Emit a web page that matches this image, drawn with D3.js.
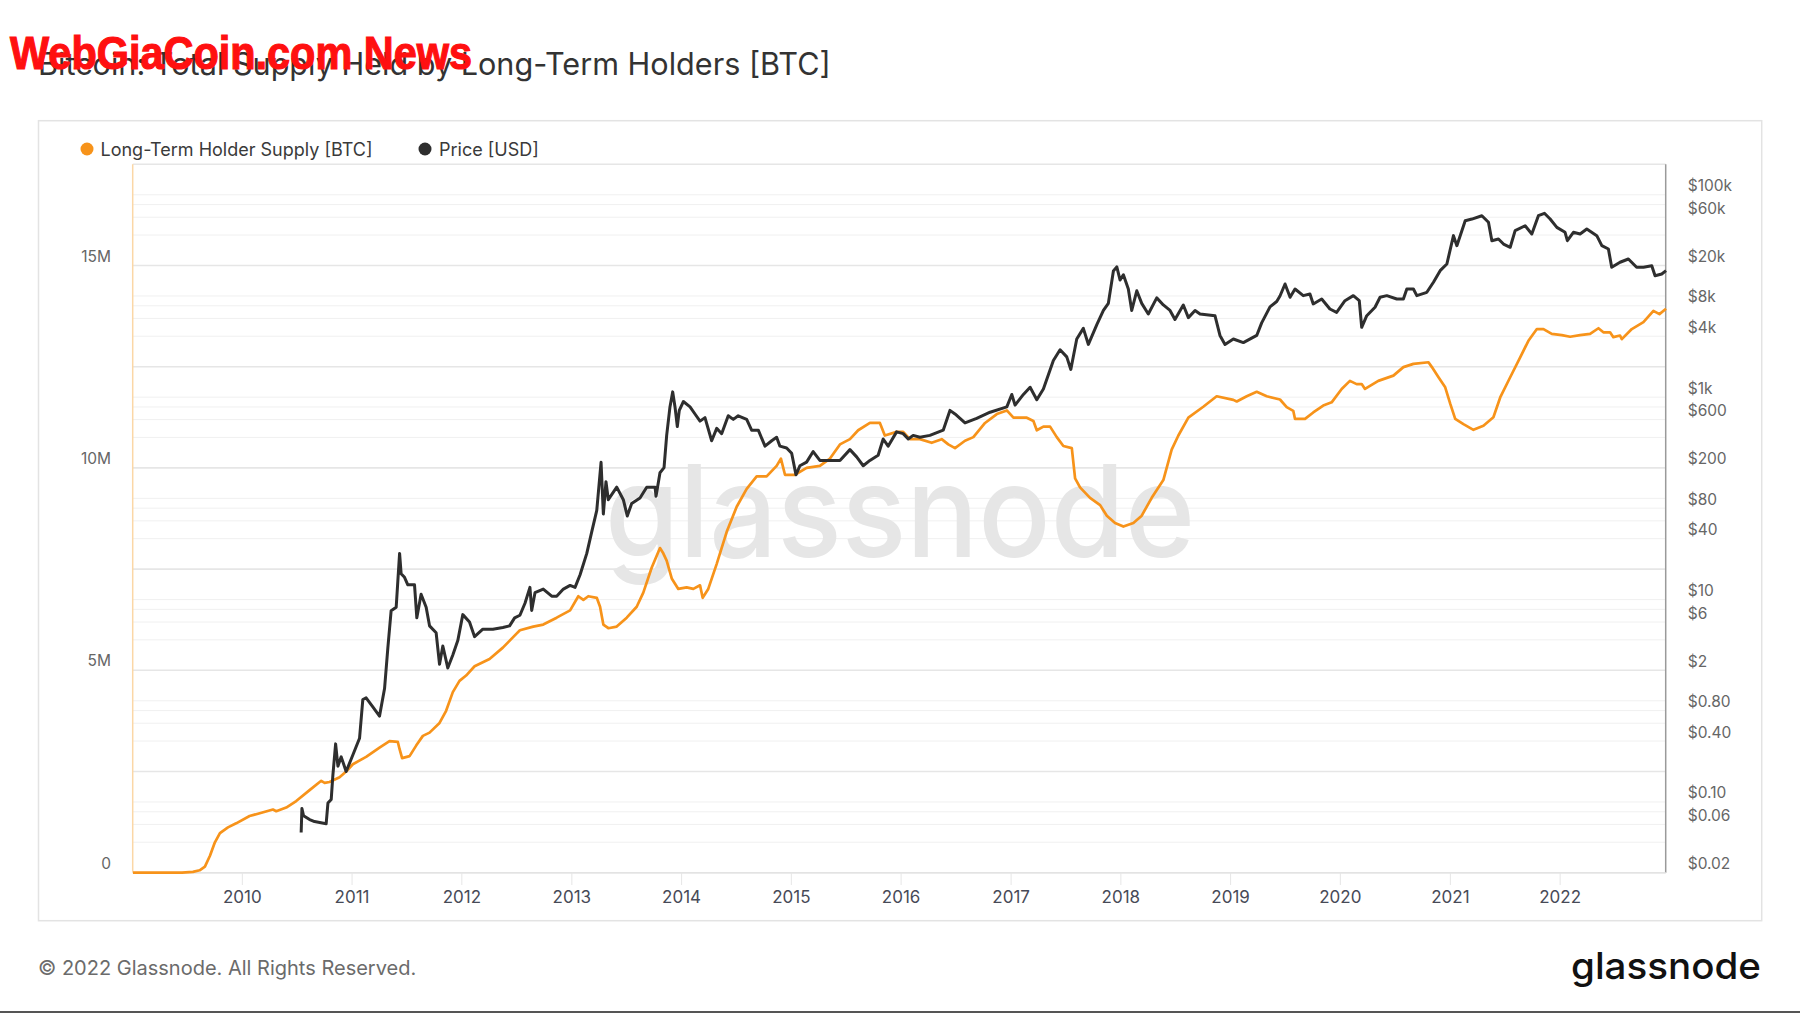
<!DOCTYPE html>
<html><head><meta charset="utf-8">
<script src="https://cdn.jsdelivr.net/npm/d3@7"></script>
<style>
html,body{margin:0;padding:0;background:#fff;}
svg{display:block;font-family:Inter,"Noto Sans",sans-serif;}
</style>
</head><body>
<svg id="chart" width="1800" height="1013"></svg>
<script>
// ---------- DATA ----------
const titleText = "Bitcoin: Total Supply Held by Long-Term Holders [BTC]";
const seriesNames = ["Long-Term Holder Supply [BTC]", "Price [USD]"];

// Long-Term Holder supply, dates as decimal years, values in millions of BTC
const lthYears = [
 2009.004,2009.450,2009.550,2009.611,2009.659,2009.705,2009.750,2009.796,2009.869,2009.944,
 2010.066,2010.279,2010.309,2010.400,2010.491,2010.613,2010.719,2010.750,2010.795,2010.886,
 2010.946,2011.007,2011.128,2011.250,2011.341,2011.417,2011.433,2011.456,2011.524,2011.584,
 2011.645,2011.706,2011.797,2011.857,2011.918,2011.979,2012.039,2012.116,2012.252,2012.373,
 2012.495,2012.528,2012.649,2012.740,2012.862,2012.984,2013.059,2013.105,2013.150,2013.227,
 2013.257,2013.287,2013.332,2013.409,2013.500,2013.591,2013.651,2013.728,2013.803,2013.833,
 2013.864,2013.910,2013.970,2014.046,2014.107,2014.168,2014.192,2014.243,2014.320,2014.411,
 2014.502,2014.593,2014.684,2014.775,2014.866,2014.905,2014.942,2015.033,2015.139,2015.260,
 2015.352,2015.443,2015.534,2015.609,2015.716,2015.807,2015.852,2015.959,2016.019,2016.080,
 2016.171,2016.278,2016.369,2016.429,2016.490,2016.581,2016.657,2016.763,2016.870,2016.961,
 2017.021,2017.143,2017.203,2017.234,2017.294,2017.355,2017.416,2017.476,2017.553,2017.583,
 2017.628,2017.719,2017.811,2017.872,2017.947,2018.023,2018.114,2018.190,2018.281,2018.387,
 2018.463,2018.524,2018.615,2018.751,2018.873,2019.025,2019.056,2019.147,2019.238,2019.329,
 2019.450,2019.511,2019.571,2019.587,2019.678,2019.753,2019.844,2019.921,2020.012,2020.087,
 2020.148,2020.194,2020.224,2020.345,2020.482,2020.573,2020.664,2020.801,2020.832,2020.892,
 2020.953,2020.999,2021.044,2021.119,2021.210,2021.301,2021.392,2021.454,2021.545,2021.636,
 2021.711,2021.788,2021.848,2021.924,2022.015,2022.091,2022.182,2022.273,2022.349,2022.394,
 2022.455,2022.485,2022.546,2022.562,2022.653,2022.759,2022.850,2022.905,2022.965
];
const lthValues = [
 0,0.003,0.02,0.06,0.15,0.42,0.75,0.98,1.12,1.22,
 1.40,1.56,1.52,1.61,1.77,2.04,2.27,2.22,2.24,2.36,
 2.50,2.68,2.86,3.09,3.25,3.23,3.05,2.83,2.88,3.14,
 3.38,3.46,3.70,4.00,4.46,4.74,4.87,5.10,5.28,5.56,
 5.90,5.99,6.08,6.13,6.30,6.48,6.83,6.74,6.83,6.79,
 6.57,6.13,6.04,6.08,6.30,6.57,6.92,7.54,8.02,7.89,
 7.71,7.27,7.01,7.05,7.01,7.10,6.79,7.01,7.63,8.42,
 9.04,9.48,9.79,9.79,10.05,10.23,9.83,9.83,10.00,10.05,
 10.23,10.58,10.71,10.93,11.11,11.11,10.80,10.89,10.89,10.71,
 10.71,10.62,10.71,10.58,10.49,10.67,10.76,11.11,11.33,11.42,
 11.24,11.24,11.16,10.93,11.02,11.02,10.76,10.54,10.49,9.74,
 9.52,9.26,9.08,8.82,8.64,8.55,8.64,8.82,9.26,9.70,
 10.45,10.80,11.24,11.51,11.77,11.68,11.64,11.77,11.88,11.77,
 11.69,11.50,11.41,11.21,11.21,11.37,11.54,11.62,11.95,12.15,
 12.07,12.07,11.95,12.15,12.28,12.49,12.57,12.61,12.49,12.24,
 11.99,11.58,11.21,11.08,10.94,11.04,11.25,11.74,12.24,12.73,
 13.14,13.43,13.43,13.31,13.28,13.24,13.28,13.31,13.45,13.35,
 13.35,13.23,13.27,13.18,13.43,13.60,13.88,13.80,13.93
];

// Price in USD, dates as decimal years
const priceYears = [
 2010.536,2010.543,2010.558,2010.613,2010.658,2010.764,2010.780,2010.810,2010.825,2010.850,
 2010.871,2010.901,2010.946,2011.007,2011.068,2011.098,2011.128,2011.189,2011.250,2011.296,
 2011.326,2011.356,2011.402,2011.417,2011.433,2011.447,2011.478,2011.508,2011.569,2011.590,
 2011.629,2011.675,2011.706,2011.766,2011.797,2011.827,2011.872,2011.918,2011.964,2012.009,
 2012.070,2012.116,2012.191,2012.282,2012.373,2012.434,2012.480,2012.528,2012.574,2012.619,
 2012.635,2012.665,2012.740,2012.817,2012.862,2012.923,2012.984,2013.029,2013.075,2013.136,
 2013.181,2013.227,2013.266,2013.287,2013.311,2013.332,2013.409,2013.469,2013.505,2013.545,
 2013.621,2013.682,2013.758,2013.767,2013.803,2013.840,2013.864,2013.894,2013.919,2013.940,
 2013.961,2013.979,2014.016,2014.077,2014.122,2014.168,2014.213,2014.274,2014.320,2014.365,
 2014.425,2014.471,2014.516,2014.593,2014.638,2014.699,2014.760,2014.821,2014.866,2014.896,
 2014.957,2015.003,2015.042,2015.078,2015.139,2015.199,2015.260,2015.352,2015.443,2015.534,
 2015.595,2015.655,2015.716,2015.791,2015.837,2015.882,2015.959,2016.019,2016.065,2016.110,
 2016.171,2016.262,2016.383,2016.444,2016.490,2016.581,2016.687,2016.809,2016.961,2017.006,
 2017.036,2017.112,2017.173,2017.234,2017.294,2017.385,2017.446,2017.507,2017.544,2017.598,
 2017.658,2017.704,2017.781,2017.841,2017.886,2017.932,2017.963,2017.993,2018.023,2018.068,
 2018.099,2018.145,2018.190,2018.250,2018.327,2018.387,2018.448,2018.493,2018.569,2018.615,
 2018.676,2018.721,2018.858,2018.903,2018.949,2019.025,2019.116,2019.238,2019.283,2019.359,
 2019.420,2019.450,2019.496,2019.542,2019.587,2019.662,2019.723,2019.753,2019.830,2019.905,
 2019.966,2020.042,2020.118,2020.172,2020.194,2020.240,2020.315,2020.361,2020.422,2020.513,
 2020.573,2020.604,2020.664,2020.695,2020.786,2020.846,2020.907,2020.968,2021.028,2021.059,
 2021.135,2021.196,2021.287,2021.347,2021.378,2021.438,2021.484,2021.545,2021.590,2021.681,
 2021.742,2021.802,2021.857,2021.909,2021.970,2022.045,2022.066,2022.121,2022.182,2022.243,
 2022.334,2022.380,2022.440,2022.470,2022.546,2022.622,2022.697,2022.759,2022.835,2022.865,
 2022.926,2022.965
];
const priceValues = [
 0.050,0.086,0.073,0.067,0.064,0.061,0.0975,0.106,0.183,0.375,
 0.226,0.279,0.20,0.291,0.426,1.03,1.07,0.87,0.705,1.32,
 3.34,7.76,8.4,15.2,28.6,18.0,16.6,14.0,14.0,6.6,
 11.3,8.4,5.5,4.7,2.29,3.48,2.11,2.83,3.96,7.1,
 6.0,4.3,5.1,5.1,5.3,5.5,6.6,7.0,9.2,13.2,
 7.8,11.7,12.7,10.8,10.8,12.7,13.8,13.2,17.6,28.6,
 46.6,76,227,70,146,97,129,97,67,89,
 101,129,129,105,179,201,419,801,1128,801,
 513,740,906,801,682,580,628,371,492,436,
 655,603,655,603,472,472,328,371,402,328,
 315,279,171,210,228,290,237,237,237,303,
 257,210,237,267,386,328,454,436,386,419,
 402,419,472,740,682,557,618,710,801,1064,
 835,1064,1254,944,1205,2307,2944,2500,1880,3758,
 4786,3319,5200,7194,8453,17620,19380,14350,16220,11720,
 7194,11250,8453,6637,9570,8150,7194,5866,8150,6110,
 7194,6637,6370,4074,3319,3758,3460,4074,5420,7800,
 8810,10000,13130,9700,11720,10070,10450,8340,9330,7430,
 6890,8980,10070,8980,4900,6380,7730,9700,10070,9330,
 9330,11720,11720,10070,10870,13650,17780,20700,39450,31400,
 55460,57550,62100,53460,35160,36560,32600,30270,44160,49430,
 40930,62100,65600,57550,47640,42560,35160,42560,40930,45900,
 39450,31400,29110,19190,21530,23190,19190,19190,19910,15850,
 16480,17780
];

const yearTicks = [2010,2011,2012,2013,2014,2015,2016,2017,2018,2019,2020,2021,2022];
const lthTicks = [0,5,10,15];
const lthTickLabels = ["0","5M","10M","15M"];
const priceTicks = [0.02,0.06,0.1,0.4,0.8,2,6,10,40,80,200,600,1000,4000,8000,20000,60000,100000];
const priceTickLabels = ["$0.02","$0.06","$0.10","$0.40","$0.80","$2","$6","$10","$40","$80","$200","$600","$1k","$4k","$8k","$20k","$60k","$100k"];

// ---------- LAYOUT ----------
const plot = {left:132.7, right:1665.7, top:164.3, bottom:872.7};
const colors = {lth:"#f7931a", price:"#2e2e2e"};

function dy(y){ const Y=Math.floor(y); const s=Date.UTC(Y,0,1), e=Date.UTC(Y+1,0,1); return new Date(s+(y-Y)*(e-s)); }

const svg = d3.select("#chart");
svg.append("rect").attr("width",1800).attr("height",1013).attr("fill","#fff");

const x = d3.scaleUtc().domain([dy(2009.001), dy(2022.962)]).range([plot.left, plot.right]);
const yL = d3.scaleLinear().domain([0,17.5]).range([plot.bottom, plot.top]);
const yP = d3.scaleLog().domain([0.02,200000]).range([plot.bottom, plot.top]);

// Title
svg.append("text").attr("x",38).attr("y",75).attr("font-size",30.6).attr("fill","#333")
  .text(titleText);

// Panel
svg.append("rect").attr("x",38.5).attr("y",120.7).attr("width",1723.2).attr("height",800)
  .attr("fill","none").attr("stroke","#e3e3e3").attr("stroke-width",1.5);

// Legend
const legend = svg.append("g");
[[87,100.5],[425,439]].forEach((p,i)=>{
  legend.append("circle").attr("cx",p[0]).attr("cy",149).attr("r",6.5).attr("fill",i===0?colors.lth:colors.price);
  legend.append("text").attr("x",p[1]).attr("y",155.5).attr("font-size",18).attr("fill","#3a3a3a").text(seriesNames[i]);
});

// Gridlines: log price minor lines
const gridG = svg.append("g");
const minor = [];
for(let k=0;k<7;k++){ [2,3,4,5].forEach(m=>minor.push(0.02*m*Math.pow(10,k))); }
gridG.selectAll("line.minor").data(minor).join("line")
  .attr("x1",plot.left).attr("x2",plot.right)
  .attr("y1",d=>yP(d)).attr("y2",d=>yP(d))
  .attr("stroke","#f0f0f0").attr("stroke-width",1);
// major lines every 2.5M
gridG.selectAll("line.major").data(d3.range(0,17.51,2.5)).join("line")
  .attr("x1",plot.left).attr("x2",plot.right)
  .attr("y1",d=>yL(d)).attr("y2",d=>yL(d))
  .attr("stroke","#e6e6e6").attr("stroke-width",1.6);

// Watermark
svg.append("text").attr("x",605).attr("y",557).attr("font-size",128).attr("font-weight",500)
  .attr("fill","#e6e6e6").attr("textLength",590).attr("lengthAdjust","spacingAndGlyphs")
  .text("glassnode");

// axes lines
svg.append("line").attr("x1",plot.left).attr("x2",plot.left).attr("y1",plot.top).attr("y2",plot.bottom)
  .attr("stroke","#fbd7a6").attr("stroke-width",1.5);
svg.append("line").attr("x1",plot.right).attr("x2",plot.right).attr("y1",plot.top).attr("y2",plot.bottom)
  .attr("stroke","#9a9a9a").attr("stroke-width",1.5);
svg.append("line").attr("x1",plot.left).attr("x2",plot.right).attr("y1",plot.bottom).attr("y2",plot.bottom)
  .attr("stroke","#e3e3e3").attr("stroke-width",1.5);

// X axis
const xAxis = svg.append("g");
yearTicks.forEach(yr=>{
  const px = x(dy(yr));
  xAxis.append("line").attr("x1",px).attr("x2",px).attr("y1",plot.bottom).attr("y2",885)
    .attr("stroke","#e6e6e6").attr("stroke-width",1);
  xAxis.append("text").attr("x",px).attr("y",897).attr("dominant-baseline","central")
    .attr("text-anchor","middle").attr("font-size",17).attr("fill","#474a57").text(yr);
});

// Left axis labels
lthTicks.forEach((v,i)=>{
  svg.append("text").attr("x",111).attr("y",yL(v)-9.5).attr("dominant-baseline","central")
    .attr("text-anchor","end").attr("font-size",15.5).attr("fill","#666").text(lthTickLabels[i]);
});
// Right axis labels
priceTicks.forEach((v,i)=>{
  svg.append("text").attr("x",1687.7).attr("y",yP(v)-9).attr("dominant-baseline","central")
    .attr("text-anchor","start").attr("font-size",15.5).attr("fill","#666").text(priceTickLabels[i]);
});

// Lines
const lthLine = d3.line().x(d=>x(dy(d[0]))).y(d=>yL(d[1]));
const priceLine = d3.line().x(d=>x(dy(d[0]))).y(d=>yP(d[1]));
svg.append("path").datum(lthYears.map((t,i)=>[t,lthValues[i]]))
  .attr("d",lthLine).attr("fill","none").attr("stroke",colors.lth).attr("stroke-width",2.7)
  .attr("stroke-linejoin","round");
svg.append("path").datum(priceYears.map((t,i)=>[t,priceValues[i]]))
  .attr("d",priceLine).attr("fill","none").attr("stroke",colors.price).attr("stroke-width",3)
  .attr("stroke-linejoin","round");

// Footer
svg.append("text").attr("x",38).attr("y",968).attr("dominant-baseline","central")
  .attr("font-size",20).attr("fill","#6b6b6b").text("© 2022 Glassnode. All Rights Reserved.");
svg.append("text").attr("x",1571).attr("y",979).attr("font-size",37).attr("font-weight",500)
  .attr("fill","#111").attr("textLength",190).attr("lengthAdjust","spacingAndGlyphs").text("glassnode");

// bottom edge line of the picture
svg.append("rect").attr("x",0).attr("y",1011).attr("width",1800).attr("height",2).attr("fill","#555");

// Overlay banner text
svg.append("text").attr("x",10).attr("y",69).attr("font-family","'Liberation Sans Narrow','Arial Narrow','Liberation Sans',sans-serif")
  .attr("font-weight",700).attr("font-size",46).attr("fill","#ff1010")
  .attr("stroke","#ff1010").attr("stroke-width",1.2)
  .attr("textLength",462).attr("lengthAdjust","spacingAndGlyphs").text("WebGiaCoin.com News");
</script>
</body></html>
